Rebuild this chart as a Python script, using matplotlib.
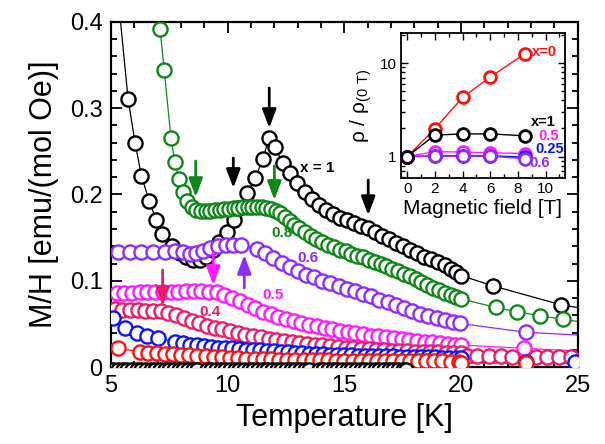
import numpy as np
import matplotlib
matplotlib.use("Agg")
import matplotlib.pyplot as plt

plt.rcParams['font.family'] = ['Liberation Sans', 'DejaVu Sans']
plt.rcParams['mathtext.fontset'] = 'custom'
plt.rcParams['mathtext.rm'] = 'Liberation Sans'

# ---- main panel: M/H vs T ----
T_x1 = [5.73, 6.03, 6.30, 6.64, 6.93, 7.20, 7.60, 7.96, 8.21, 8.50, 8.81, 9.07, 9.38, 9.64,
        9.96, 10.27, 10.50, 10.84, 11.18, 11.50, 11.78, 12.04, 12.35, 12.67, 12.98, 13.30,
        13.60, 13.90, 14.20, 14.50, 14.80, 15.10, 15.40, 15.70, 16.00, 16.30, 16.60, 16.90,
        17.20, 17.50, 17.80, 18.10, 18.40, 18.70, 19.00, 19.30, 19.55, 19.80, 20.00, 21.37, 24.30]
M_x1 = [0.311, 0.260, 0.222, 0.192, 0.171, 0.154, 0.140, 0.132, 0.127, 0.124, 0.124, 0.128, 0.136,
        0.145, 0.156, 0.170, 0.184, 0.202, 0.219, 0.241, 0.266, 0.255, 0.236, 0.225, 0.213, 0.203,
        0.195, 0.188, 0.182, 0.177, 0.173, 0.170, 0.167, 0.164, 0.161, 0.157, 0.152, 0.148,
        0.144, 0.140, 0.136, 0.132, 0.128, 0.125, 0.122, 0.118, 0.114, 0.110, 0.106, 0.094, 0.072]

T_x08 = [7.10, 7.28, 7.57, 7.73, 7.91, 8.07, 8.25, 8.45, 8.65, 8.85, 9.05, 9.25, 9.45, 9.65, 9.85,
         10.05, 10.25, 10.45, 10.65, 10.85, 11.05, 11.25, 11.45, 11.65, 11.85, 12.05, 12.25, 12.45,
         12.65, 12.85, 13.05, 13.30, 13.55, 13.80, 14.05, 14.30, 14.55, 14.80, 15.05, 15.30, 15.55,
         15.80, 16.05, 16.30, 16.55, 16.80, 17.05, 17.30, 17.55, 17.80, 18.05, 18.30, 18.55, 18.80,
         19.05, 19.30, 19.55, 19.80, 20.00, 21.49, 22.41, 23.37, 24.37]
M_x08 = [0.392, 0.344, 0.265, 0.238, 0.218, 0.203, 0.192, 0.185, 0.182, 0.181, 0.181, 0.181, 0.182,
         0.182, 0.183, 0.183, 0.184, 0.184, 0.185, 0.185, 0.185, 0.185, 0.185, 0.184, 0.183, 0.181,
         0.178, 0.174, 0.169, 0.165, 0.161, 0.157, 0.152, 0.148, 0.145, 0.142, 0.139, 0.136, 0.134,
         0.131, 0.129, 0.127, 0.124, 0.122, 0.120, 0.117, 0.114, 0.111, 0.108, 0.105, 0.102, 0.099,
         0.095, 0.092, 0.089, 0.086, 0.083, 0.081, 0.079, 0.069, 0.064, 0.0595, 0.0552]

T_x06 = [5.31, 5.80, 6.30, 6.80, 7.30, 7.74, 8.10, 8.40, 8.65, 8.93, 9.24, 9.60, 9.93, 10.24, 10.55,
         11.24, 11.60, 11.95, 12.31, 12.67, 13.00, 13.35, 13.70, 14.05, 14.40, 14.75, 15.10, 15.45,
         15.80, 16.15, 16.50, 16.85, 17.20, 17.55, 17.90, 18.25, 18.60, 18.95, 19.30, 19.65, 19.95, 22.80]
M_x06 = [0.133, 0.133, 0.133, 0.133, 0.133, 0.134, 0.133, 0.131, 0.132, 0.135, 0.138, 0.140, 0.141,
         0.142, 0.142, 0.137, 0.132, 0.126, 0.121, 0.116, 0.111, 0.107, 0.104, 0.100, 0.097, 0.094,
         0.091, 0.088, 0.085, 0.082, 0.078, 0.075, 0.072, 0.068, 0.065, 0.062, 0.059, 0.057, 0.055,
         0.052, 0.0505, 0.0402]

T_x05 = [5.24, 5.57, 5.90, 6.23, 6.56, 6.89, 7.22, 7.55, 7.88, 8.21, 8.54, 8.87, 9.20, 9.53, 9.86,
         10.19, 10.52, 10.85, 11.18, 11.51, 11.84, 12.17, 12.50, 12.83, 13.16, 13.49, 13.82, 14.15,
         14.48, 14.81, 15.14, 15.47, 15.80, 16.13, 16.46, 16.79, 17.12, 17.45, 17.78, 18.11, 18.44,
         18.77, 19.10, 19.43, 19.76, 20.00, 22.70]
M_x05 = [0.086, 0.086, 0.0862, 0.0865, 0.0868, 0.087, 0.087, 0.0872, 0.0875, 0.0878, 0.088, 0.088,
         0.0875, 0.0865, 0.084, 0.080, 0.076, 0.072, 0.068, 0.064, 0.061, 0.058, 0.056, 0.053, 0.051,
         0.049, 0.047, 0.045, 0.0435, 0.042, 0.0405, 0.039, 0.0378, 0.0365, 0.0355, 0.0345, 0.0335,
         0.0325, 0.0315, 0.0305, 0.0295, 0.0285, 0.0275, 0.0268, 0.026, 0.0255, 0.0216]

T_x04 = [5.15, 5.48, 5.81, 6.14, 6.47, 6.80, 7.13, 7.46, 7.79, 8.12, 8.45, 8.78, 9.11, 9.44, 9.77,
         10.10, 10.43, 10.76, 11.09, 11.42, 11.75, 12.08, 12.41, 12.74, 13.07, 13.40, 13.73, 14.06,
         14.39, 14.72, 15.05, 15.38, 15.71, 16.04, 16.37, 16.70, 17.03, 17.36, 17.69, 18.02, 18.35,
         18.68, 19.01, 19.34, 19.67, 20.00, 20.25, 20.70, 21.20, 21.70, 22.20, 23.20, 23.70, 24.20, 24.70]
M_x04 = [0.067, 0.0665, 0.066, 0.066, 0.0655, 0.065, 0.0645, 0.063, 0.060, 0.0565, 0.0535, 0.0505,
         0.048, 0.0455, 0.0435, 0.0415, 0.0395, 0.0375, 0.036, 0.0345, 0.033, 0.0315, 0.030, 0.029,
         0.0278, 0.0268, 0.0258, 0.025, 0.0242, 0.0234, 0.0226, 0.022, 0.0213, 0.0207, 0.0201,
         0.0196, 0.0191, 0.0187, 0.0183, 0.0179, 0.0176, 0.0173, 0.017, 0.0167, 0.0164, 0.0161,
         0.0130, 0.0126, 0.0124, 0.0122, 0.0120, 0.0118, 0.0117, 0.0116, 0.0115]

T_x025 = [5.10, 5.60, 6.10, 6.55, 7.00, 7.75, 8.10, 8.40, 8.70, 9.00, 9.30, 9.60, 9.90, 10.20, 10.50,
          10.80, 11.10, 11.40, 11.70, 12.00, 12.30, 12.60, 12.90, 13.20, 13.50, 13.80, 14.10, 14.40,
          14.70, 15.00, 15.30, 15.60, 15.90, 16.20, 16.50, 16.80, 17.10, 17.40, 17.70, 18.00, 18.30,
          18.60, 18.90, 19.20, 19.50, 19.80, 20.00, 22.80, 24.90]
M_x025 = [0.057, 0.045, 0.040, 0.036, 0.0335, 0.029, 0.0275, 0.026, 0.025, 0.024, 0.0232, 0.0225,
          0.022, 0.0215, 0.021, 0.0203, 0.0197, 0.0192, 0.0186, 0.018, 0.0175, 0.017, 0.0165, 0.016,
          0.0156, 0.0152, 0.0148, 0.0145, 0.0142, 0.0139, 0.0136, 0.0133, 0.013, 0.0128, 0.0126,
          0.0124, 0.0122, 0.012, 0.0118, 0.0116, 0.0115, 0.0113, 0.0112, 0.011, 0.0109, 0.0107,
          0.0106, 0.006, 0.006]

T_x0 = [5.31, 6.24, 6.60, 6.95, 7.30, 7.65, 8.00, 8.35, 8.70, 9.05, 9.40, 9.75, 10.10, 10.45, 10.80,
        11.15, 11.50, 11.85, 12.20, 12.55, 12.90, 13.25, 13.60, 13.95, 14.30, 14.65, 15.00, 15.35,
        15.70, 16.05, 16.40, 16.75, 17.10, 17.45, 17.80, 18.15, 18.50, 18.85, 19.20, 19.55, 19.90,
        20.00, 22.80]
M_x0 = [0.0215, 0.0178, 0.0167, 0.0159, 0.0152, 0.0146, 0.014, 0.0134, 0.0128, 0.0122, 0.0116,
        0.0111, 0.0106, 0.0102, 0.0098, 0.0095, 0.0092, 0.0089, 0.0087, 0.0085, 0.0083, 0.0081,
        0.0079, 0.0078, 0.0076, 0.0075, 0.0074, 0.0073, 0.0072, 0.0071, 0.007, 0.0069, 0.0068,
        0.0067, 0.0066, 0.0066, 0.0065, 0.0064, 0.0064, 0.0063, 0.0062, 0.0045, 0.0045]

# dense black row sitting on the axis (mostly hidden below M = 0)
T_base = [5.10, 5.30, 5.50, 5.70, 5.90, 6.10, 6.30, 6.50, 6.70, 6.90, 7.10, 7.30, 7.50, 7.70, 7.90,
          8.10, 8.30, 8.50, 8.70, 9.10, 9.30, 9.50, 9.70, 9.90, 10.10, 10.30, 10.50, 10.70, 10.90,
          11.10, 11.30, 11.50, 11.70, 11.90, 12.10, 12.30, 12.50, 12.70, 12.90, 13.10, 13.30, 13.50,
          13.90, 14.10, 14.30, 14.50, 14.70, 14.90, 15.10, 15.30, 15.50, 15.70, 15.90, 16.10, 16.30,
          16.50, 16.70, 16.90, 17.10, 17.30, 17.50, 17.66]
M_base = [-0.0035] * len(T_base)

# line ends (curves continue past the frame)
line_head = {'x1': (5.30, 0.43), 'x08': (7.02, 0.43)}
line_tail = {'x1': (25.2, 0.068), 'x08': (25.2, 0.052), 'x06': (25.2, 0.0368),
             'x05': (25.2, 0.0184), 'x04': (25.2, 0.0114), 'x025': (25.2, 0.006), 'x0': (25.2, 0.0045)}

colors = {'x1': 'black', 'x08': '#11861A', 'x06': '#8E2BFF', 'x05': '#FF1AFF',
          'x04': '#EE1A6A', 'x025': '#0A14FF', 'x0': '#FF1010'}

series = [('x1', T_x1, M_x1), ('x08', T_x08, M_x08), ('x06', T_x06, M_x06),
          ('x05', T_x05, M_x05), ('x04', T_x04, M_x04), ('x025', T_x025, M_x025),
          ('x0', T_x0, M_x0)]

# arrows: (T, M tail, M head, key)
arrows = [(11.78, 0.3235, 0.277, 'x1'), (10.24, 0.2423, 0.2075, 'x1'), (16.02, 0.2168, 0.176, 'x1'),
          (8.63, 0.2388, 0.197, 'x08'), (12.00, 0.233, 0.1936, 'x08'),
          (10.71, 0.0916, 0.1299, 'x06'), (9.38, 0.132, 0.095, 'x05'), (7.21, 0.1125, 0.0707, 'x04')]

labels = [(13.09, 0.2307, 'x = 1', 'x1', 'left'), (12.31, 0.155, '0.8', 'x08', 'center'),
          (13.45, 0.126, '0.6', 'x06', 'center'), (11.95, 0.0835, '0.5', 'x05', 'center'),
          (9.24, 0.064, '0.4', 'x04', 'center')]

# ---- inset: rho / rho(0T) vs field ----
field = [0, 2, 4, 6, 8.5]
rho_x0 = [1, 1.99, 4.3, 7.1, 12.6]
rho_x1 = [1, 1.70, 1.75, 1.75, 1.67]
rho_x05 = [1, 1.13, 1.12, 1.10, 1.08]
rho_x025 = [1, 1.02, 1.02, 1.02, 0.99]
rho_x06 = [1, 1.01, 1.01, 1.01, 0.95]

fig = plt.figure(figsize=(6.05, 4.44), dpi=100)
ax = fig.add_axes([0.1835, 0.1734, 0.7715, 0.7771])

for key, T, M in series:
    c = colors[key]
    lx, ly = list(T), list(M)
    if key in line_head:
        lx = [line_head[key][0]] + lx
        ly = [line_head[key][1]] + ly
    lx.append(line_tail[key][0])
    ly.append(line_tail[key][1])
    ax.plot(lx, ly, '-', color=c, lw=0.9, zorder=2)
    ax.plot(T, M, 'o', ms=10.2, mfc='white', mec=c, mew=1.7, zorder=3)

ax.plot(T_base, M_base, 'o', ms=10.2, mfc='white', mec='black', mew=1.7, zorder=3)

for t, m0, m1, key in arrows:
    ax.annotate('', xy=(t, m1), xytext=(t, m0),
                arrowprops=dict(arrowstyle='-|>,head_length=0.8,head_width=0.3', color=colors[key],
                                lw=2, mutation_scale=14, shrinkA=0, shrinkB=0), zorder=5)

for t, m, s, key, ha in labels:
    ax.text(t, m, s, color=colors[key], fontsize=11, fontweight='bold', ha=ha, va='center', zorder=6)

ax.set_xlim(5, 25)
ax.set_ylim(0, 0.4)
ax.set_xticks([5, 10, 15, 20, 25])
ax.set_yticks([0, 0.1, 0.2, 0.3, 0.4])
ax.set_yticklabels(['0', '0.1', '0.2', '0.3', '0.4'])
ax.set_xticks(np.arange(5, 26, 1), minor=True)
ax.set_yticks(np.arange(0, 0.41, 0.02), minor=True)
ax.tick_params(which='both', direction='in', top=True, right=True, width=1.3, labelsize=17)
ax.tick_params(which='major', length=8, pad=6)
ax.tick_params(which='minor', length=4)
for sp in ax.spines.values():
    sp.set_linewidth(1.6)
ax.set_xlabel('Temperature [K]', fontsize=22, labelpad=4)
ax.set_ylabel('M/H [emu/(mol Oe)]', fontsize=22, labelpad=8)

ins = fig.add_axes([0.6628, 0.599, 0.271, 0.3266])
inset_series = [(rho_x0, colors['x0']), (rho_x05, colors['x05']), (rho_x025, colors['x025']),
                (rho_x06, colors['x06']), (rho_x1, colors['x1'])]
for r, c in inset_series:
    ins.plot(field, r, '-o', color=c, lw=1, ms=8.5, mfc='white', mec=c, mew=2)
ins.set_yscale('log')
ins.set_xlim(-0.45, 11.4)
ins.set_ylim(0.59, 21)
ins.set_xticks([0, 2, 4, 6, 8, 10])
ins.set_xticks([1, 3, 5, 7, 9, 11], minor=True)
ins.set_yticks([1, 10])
ins.set_yticklabels(['1', '10'])
ins.tick_params(which='both', direction='in', top=True, right=True, labelsize=11, width=1)
ins.tick_params(which='major', length=5, pad=3)
ins.tick_params(which='minor', length=3)
ins.yaxis.set_minor_formatter(matplotlib.ticker.NullFormatter())
for sp in ins.spines.values():
    sp.set_linewidth(1.3)
ins.set_xlabel('Magnetic field [T]', fontsize=15, labelpad=2)
ins.set_ylabel(r'ρ / ρ$_{\mathrm{(0\ T)}}$', fontsize=15, labelpad=4)

inset_labels = [(9.0, 13.1, 'x=0', colors['x0']), (8.94, 2.34, 'x=1', colors['x1']),
                (9.45, 1.66, '0.5', colors['x05']), (9.23, 1.21, '0.25', colors['x025']),
                (8.8, 0.857, '0.6', colors['x06'])]
for f, r, s, c in inset_labels:
    ins.text(f, r, s, color=c, fontsize=10.5, fontweight='bold', ha='left', va='center')

fig.savefig('out.png', dpi=100)
